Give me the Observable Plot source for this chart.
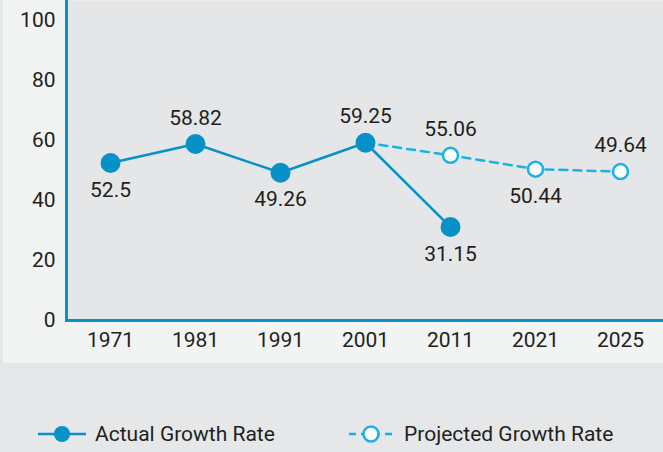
<!DOCTYPE html>
<html>
<head>
<meta charset="utf-8">
<script src="https://cdn.jsdelivr.net/npm/d3@7"></script>
<script src="https://cdn.jsdelivr.net/npm/@observablehq/plot@0.6"></script>
<style>
  html, body { margin: 0; padding: 0; background: #e6e7e9; }
  body { width: 663px; height: 452px; overflow: hidden; font-family: Roboto, "Noto Sans", sans-serif; }
  #chart { margin-left: 3px; width: 660px; height: 363px; background: #f2f3f3; }
  #chart svg { display: block; }
  #legend { position: relative; height: 89px; font-size: 21px; color: #231f20; }
  .item { position: absolute; top: 57px; display: flex; align-items: center; height: 28px; }
  .item svg { margin-right: 8px; }
</style>
</head>
<body>
<div id="chart"></div>
<div id="legend">
  <div class="item" style="left:37px">
    <svg width="50" height="20"><line x1="1" y1="10" x2="49" y2="10" stroke="#0891c9" stroke-width="2.5"/><circle cx="25" cy="10" r="8" fill="#0891c9"/></svg>
    <span>Actual Growth Rate</span>
  </div>
  <div class="item" style="left:348px">
    <svg width="48" height="20"><line x1="1" y1="10" x2="47" y2="10" stroke="#1bb1e3" stroke-width="2.5" stroke-dasharray="7,5"/><circle cx="23" cy="10" r="7.5" fill="#fff" stroke="#1bb1e3" stroke-width="2.5"/></svg>
    <span>Projected Growth Rate</span>
  </div>
</div>
<script>
const years = ["1971", "1981", "1991", "2001", "2011", "2021", "2025"];
const actualYears = ["1971", "1981", "1991", "2001", "2011"];
const actualValues = [52.5, 58.82, 49.26, 59.25, 31.15];
const projectedYears = ["2001", "2011", "2021", "2025"];
const projectedValues = [59.25, 55.06, 50.44, 49.64];
const yTicks = [0, 20, 40, 60, 80, 100];

const actual = actualYears.map((y, i) => ({year: y, value: actualValues[i]}));
const projected = projectedYears.map((y, i) => ({year: y, value: projectedValues[i]}));

// label placement: above for local peaks, below otherwise
const actualAbove = new Set(["1981", "2001"]);
const projAbove = new Set(["2011", "2025"]);

const blue = "#0891c9";
const cyan = "#1bb1e3";
const textColor = "#231f20";
const fs = 21;

const chart = Plot.plot({
  width: 660,
  height: 363,
  marginLeft: 63,
  marginRight: 0,
  marginTop: 0,
  marginBottom: 43,
  style: {fontFamily: "Roboto, 'Noto Sans', sans-serif", background: "transparent", overflow: "visible"},
  x: {type: "point", domain: years, padding: 0.49},
  y: {domain: [0, 106.67]},
  marks: [
    Plot.frame({fill: "#e5e6e8", stroke: null}),
    Plot.axisY({ticks: yTicks, tickSize: 0, tickPadding: 11, fontSize: fs, fill: textColor, label: null}),
    Plot.axisX({tickSize: 0, tickPadding: 12, fontSize: fs, fill: textColor, label: null}),
    Plot.ruleY([0], {stroke: blue, strokeWidth: 3}),
    Plot.frame({anchor: "left", stroke: blue, strokeWidth: 3}),
    Plot.line(projected, {x: "year", y: "value", stroke: cyan, strokeWidth: 2.5, strokeDasharray: "8,6"}),
    Plot.line(actual, {x: "year", y: "value", stroke: blue, strokeWidth: 2.5}),
    Plot.dot(projected.filter(d => d.year !== "2001"), {x: "year", y: "value", r: 7.5, fill: "#fff", stroke: cyan, strokeWidth: 2.5}),
    Plot.dot(actual, {x: "year", y: "value", r: 10, fill: blue}),
    Plot.text(actual.filter(d => actualAbove.has(d.year)), {x: "year", y: "value", text: d => String(d.value), dy: -26, fontSize: fs, fill: textColor}),
    Plot.text(actual.filter(d => !actualAbove.has(d.year)), {x: "year", y: "value", text: d => String(d.value), dy: 27, fontSize: fs, fill: textColor}),
    Plot.text(projected.filter(d => projAbove.has(d.year)), {x: "year", y: "value", text: d => d.value.toFixed(2), dy: -26, fontSize: fs, fill: textColor}),
    Plot.text(projected.filter(d => d.year !== "2001" && !projAbove.has(d.year)), {x: "year", y: "value", text: d => d.value.toFixed(2), dy: 27, fontSize: fs, fill: textColor})
  ]
});
document.getElementById("chart").appendChild(chart);
</script>
</body>
</html>
